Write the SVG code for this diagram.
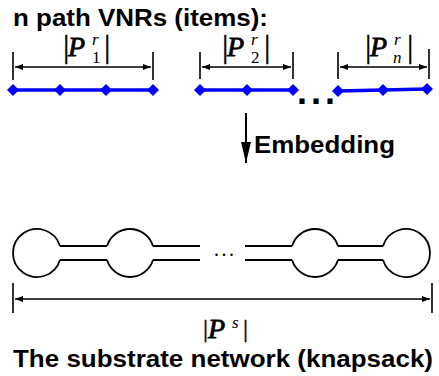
<svg xmlns="http://www.w3.org/2000/svg" width="439" height="376" viewBox="0 0 439 376">
<style>
.t{font-family:"Liberation Sans",Arial,sans-serif;font-weight:bold;font-size:23px;fill:#000}
.m{font-family:"Liberation Serif","Times New Roman",serif;fill:#000}
.P{font-style:italic;font-size:28px;stroke:#000;stroke-width:0.8}
.bar{font-size:32px;stroke:#000;stroke-width:0.4}
.sc{font-size:17px}
.si{font-size:17px;font-style:italic}
.vl{stroke:#0000ff;stroke-width:3.5;fill:none}
.dm{fill:#0000ff}
.dim{stroke:#000;stroke-width:1.4;fill:none}
.tick{stroke:#000;stroke-width:1.6}
.sn{stroke:#000;stroke-width:1.8;fill:none}
</style>
<defs>
<marker id="ah" viewBox="0 0 8 6" refX="8" refY="3" markerWidth="8" markerHeight="6" markerUnits="userSpaceOnUse" orient="auto-start-reverse">
<path d="M0,0 L8,3 L0,6 z" fill="#000"/>
</marker>
<marker id="big" viewBox="0 0 10 21" refX="5" refY="21" markerWidth="10" markerHeight="21" markerUnits="userSpaceOnUse" orient="0">
<path d="M0,0 L10,0 L5,21 z" fill="#000"/>
</marker>
<path id="d" d="M-6,0 L0,-6 L6,0 L0,6 z"/>
</defs>

<text class="t" x="13" y="26" textLength="255" lengthAdjust="spacingAndGlyphs">n path VNRs (items):</text>

<g id="connectors">
  <path class="vl" d="M13,90 H153"/>
  <path class="vl" d="M200,90 H293"/>
  <path class="vl" d="M338,91 L427,89" stroke-width="3"/>
  <path class="dim" d="M15,67 H151" marker-start="url(#ah)" marker-end="url(#ah)"/>
  <path class="dim" d="M202,67 H291" marker-start="url(#ah)" marker-end="url(#ah)"/>
  <path class="dim" d="M340,67 H427" marker-start="url(#ah)" marker-end="url(#ah)"/>
  <path class="dim" d="M15,299 H430" marker-start="url(#ah)" marker-end="url(#ah)"/>
  <path d="M246,113 V163" stroke="#000" stroke-width="2" marker-end="url(#big)"/>
  <path class="sn" d="M59.96,246 H107.04 M59.96,260 H107.04"/>
  <path class="sn" d="M152.96,246 H200 M152.96,260 H200"/>
  <path class="sn" d="M245,246 H292.04 M245,260 H292.04"/>
  <path class="sn" d="M337.96,246 H383.04 M337.96,260 H383.04"/>
</g>

<g id="vnr1">
  <use href="#d" class="dm" x="13" y="90"/>
  <use href="#d" class="dm" x="60" y="90"/>
  <use href="#d" class="dm" x="106" y="90"/>
  <use href="#d" class="dm" x="153" y="90"/>
  <path class="tick" d="M13,52 V80 M153,52 V80"/>
  <text class="m bar" x="63" y="57">|</text>
  <text class="m P" x="68" y="56">P</text>
  <text class="m si" x="92" y="45">r</text>
  <text class="m sc" x="92" y="63">1</text>
  <text class="m bar" x="104" y="57">|</text>
</g>

<g id="vnr2">
  <use href="#d" class="dm" x="200" y="90"/>
  <use href="#d" class="dm" x="247" y="90"/>
  <use href="#d" class="dm" x="293" y="90"/>
  <path class="tick" d="M200,52 V79 M293,52 V79"/>
  <text class="m bar" x="222" y="57">|</text>
  <text class="m P" x="227" y="56">P</text>
  <text class="m si" x="251" y="45">r</text>
  <text class="m sc" x="251" y="63">2</text>
  <text class="m bar" x="264" y="57">|</text>
</g>

<text class="t" x="297" y="104" style="font-size:36px;letter-spacing:4px">...</text>

<g id="vnrn">
  <use href="#d" class="dm" x="338" y="91"/>
  <use href="#d" class="dm" x="383" y="90"/>
  <use href="#d" class="dm" x="427" y="89"/>
  <path class="tick" d="M338,52 V79 M429,49 V79"/>
  <text class="m bar" x="365" y="57">|</text>
  <text class="m P" x="370" y="56">P</text>
  <text class="m si" x="394" y="45">r</text>
  <text class="m si" x="393" y="63">n</text>
  <text class="m bar" x="407" y="57">|</text>
</g>

<g id="embedding-label">
  <text class="t" x="254" y="153" textLength="141" lengthAdjust="spacingAndGlyphs">Embedding</text>
</g>

<g id="s1"><path class="sn" d="M59.96,246 A24,24 0 1 0 59.96,260"/></g>
<g id="s2"><path class="sn" d="M107.04,246 A24,24 0 0 1 152.96,246 M107.04,260 A24,24 0 0 0 152.96,260"/></g>
<text class="m" x="214" y="256" style="font-size:20px;letter-spacing:2.5px">...</text>
<g id="s3"><path class="sn" d="M292.04,246 A24,24 0 0 1 337.96,246 M292.04,260 A24,24 0 0 0 337.96,260"/></g>
<g id="s4"><path class="sn" d="M383.04,246 A24,24 0 1 1 383.04,260"/></g>

<g id="substrate-dim">
  <path class="tick" d="M13,283 V313 M432,283 V313"/>
  <text class="m bar" x="203" y="337" style="font-size:25px">|</text>
  <text class="m P" x="208" y="338">P</text>
  <text class="m si" x="232" y="328">s</text>
  <text class="m bar" x="243" y="337" style="font-size:25px">|</text>
</g>

<text class="t" x="13" y="367" textLength="420" lengthAdjust="spacingAndGlyphs">The substrate network (knapsack)</text>
</svg>
